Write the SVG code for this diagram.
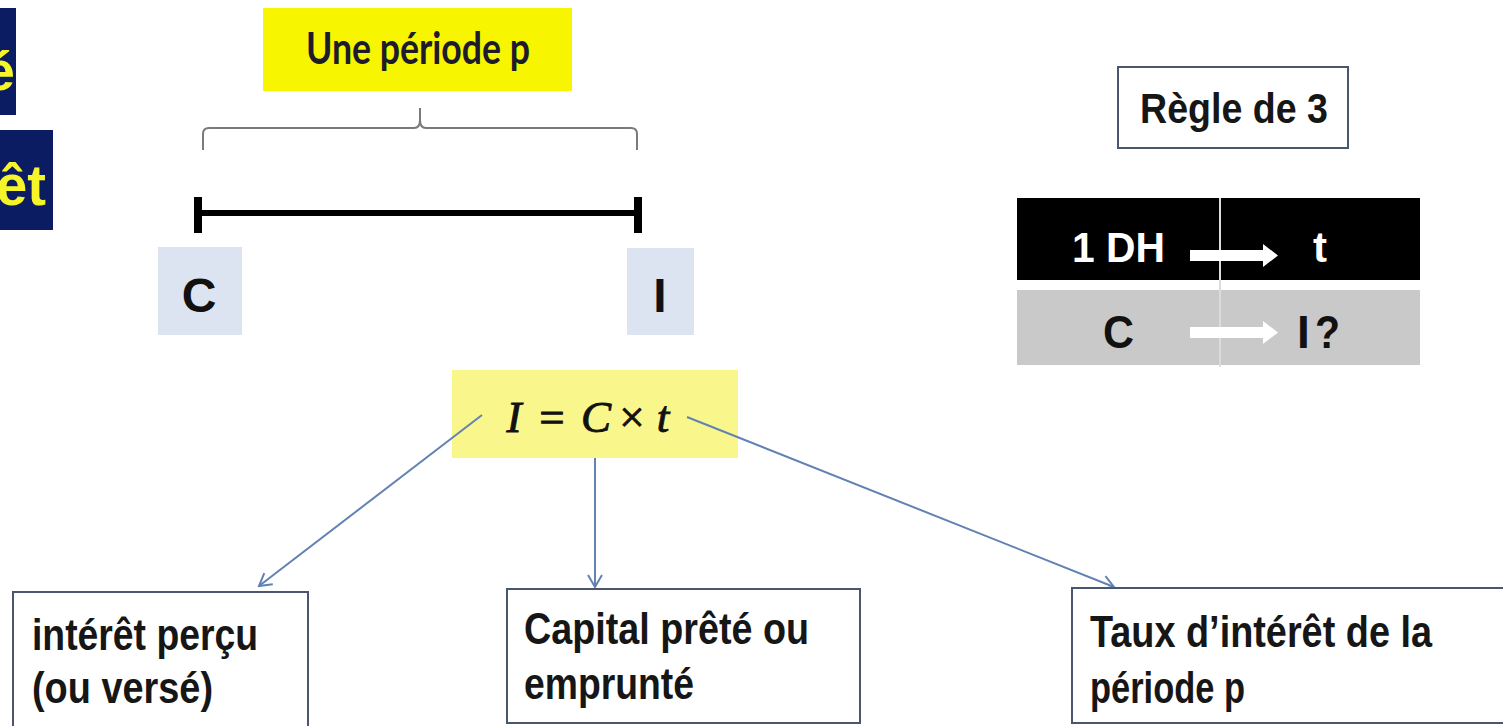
<svg xmlns="http://www.w3.org/2000/svg" width="1503" height="726" viewBox="0 0 1503 726">
  <style>
    .sans { font-family: "Liberation Sans", Arial, sans-serif; }
    .box { fill: #ffffff; stroke: #4a5670; stroke-width: 2; }
    .lbl { font-family: "Liberation Sans", Arial, sans-serif; font-weight: bold; font-size: 45px; fill: #161616; }
    .tick { fill: #dbe4f0; }
    .conn { stroke: #6282b4; stroke-width: 2; fill: none; }
    .math { font-family: "Liberation Serif", "Times New Roman", serif; font-style: italic; font-size: 45px; fill: #111; stroke: #111; stroke-width: 0.9; text-anchor: middle; }
    .cell { font-family: "Liberation Sans", Arial, sans-serif; font-weight: bold; }
  </style>
  <defs>
    <marker id="vee" markerWidth="16" markerHeight="16" refX="14" refY="8" orient="auto" markerUnits="userSpaceOnUse">
      <path d="M2,1 L14,8 L2,15" fill="none" stroke="#6282b4" stroke-width="2"/>
    </marker>
  </defs>

  <rect width="1503" height="726" fill="#ffffff"/>

  <!-- title tabs at the left edge -->
  <g id="tab-top">
    <rect x="0" y="8" width="16" height="107" fill="#0b1c62"/>
    <text x="15" y="90" class="sans" font-weight="bold" font-size="56" fill="#f5f52a" text-anchor="end">é</text>
  </g>
  <g id="tab-bottom">
    <rect x="0" y="130" width="53" height="100" fill="#0b1c62"/>
    <text x="-4" y="205" class="sans" font-weight="bold" font-size="58" fill="#f5f52a" textLength="50" lengthAdjust="spacingAndGlyphs">êt</text>
  </g>

  <!-- period label -->
  <g id="period">
    <rect x="263" y="8" width="309" height="83" fill="#f7f500"/>
    <text x="306" y="64" font-family="Lato, 'Open Sans', sans-serif" font-weight="bold" font-size="44" fill="#1c1c2a" textLength="224" lengthAdjust="spacingAndGlyphs">Une période p</text>
  </g>

  <!-- brace over the time span -->
  <g id="brace" fill="none" stroke="#7a7a7a" stroke-width="2">
    <path d="M203,150 L203,134 Q203,128 209,128 L414,128 Q420,128 420,120 L420,108 M420,120 Q420,128 426,128 L631,128 Q637,128 637,134 L637,150"/>
  </g>

  <!-- time span -->
  <g id="span" fill="#000">
    <rect x="198" y="210" width="442" height="6"/>
    <rect x="194" y="197" width="8" height="36"/>
    <rect x="634" y="197" width="8" height="36"/>
  </g>

  <g id="node-c">
    <rect x="158" y="247" width="84" height="88" class="tick"/>
    <text x="199" y="312" class="cell" font-size="48" fill="#111" text-anchor="middle">C</text>
  </g>
  <g id="node-i">
    <rect x="627" y="248" width="67" height="87" class="tick"/>
    <text x="660" y="312" class="cell" font-size="48" fill="#111" text-anchor="middle">I</text>
  </g>

  <!-- rule of three -->
  <g id="rule-title">
    <rect x="1118" y="67" width="230" height="81" class="box"/>
    <text x="1140" y="123" class="cell" font-size="42" fill="#161616" textLength="188" lengthAdjust="spacingAndGlyphs">Règle de 3</text>
  </g>
  <g id="rule-table">
    <rect x="1017" y="198" width="403" height="82" fill="#000"/>
    <rect x="1017" y="290" width="403" height="75" fill="#c9c9c9"/>
    <line x1="1220" y1="198" x2="1220" y2="367" stroke="#dcdcdc" stroke-width="2"/>
    <text x="1072" y="262" class="cell" font-size="42" fill="#fff" textLength="93" lengthAdjust="spacingAndGlyphs">1 DH</text>
    <path d="M1190,250 L1263,250 L1263,244 L1278,255.5 L1263,267 L1263,261 L1190,261 Z" fill="#fff"/>
    <text x="1313" y="262" class="cell" font-size="42" fill="#fff">t</text>
    <text x="1103" y="348" class="cell" font-size="46" fill="#111" textLength="31" lengthAdjust="spacingAndGlyphs">C</text>
    <path d="M1190,327 L1263,327 L1263,321 L1278,332.5 L1263,344 L1263,338 L1190,338 Z" fill="#fff"/>
    <text x="1297" y="348" class="cell" font-size="46" fill="#111">I</text>
    <text x="1315" y="348" class="cell" font-size="46" fill="#111" textLength="25" lengthAdjust="spacingAndGlyphs">?</text>
  </g>

  <!-- formula -->
  <g id="formula">
    <rect x="452" y="370" width="286" height="88" fill="#f9f78c"/>
    <text y="432" class="math"><tspan x="514">I</tspan><tspan x="552" font-style="normal">=</tspan><tspan x="596">C</tspan><tspan x="632" font-style="normal">×</tspan><tspan x="663">t</tspan></text>
  </g>

  <!-- connectors from the formula -->
  <g id="connectors">
    <line x1="482" y1="415" x2="259" y2="586" class="conn" marker-end="url(#vee)"/>
    <line x1="595" y1="458" x2="595" y2="587" class="conn" marker-end="url(#vee)"/>
    <line x1="687" y1="417" x2="1114" y2="587" class="conn" marker-end="url(#vee)"/>
  </g>

  <g id="box-interest">
    <rect x="13" y="592" width="295" height="140" class="box"/>
    <text x="32" y="650" class="lbl" textLength="226" lengthAdjust="spacingAndGlyphs">intérêt perçu</text>
    <text x="32" y="703" class="lbl" textLength="181" lengthAdjust="spacingAndGlyphs">(ou versé)</text>
  </g>
  <g id="box-capital">
    <rect x="507" y="589" width="353" height="134" class="box"/>
    <text x="524" y="644" class="lbl" textLength="285" lengthAdjust="spacingAndGlyphs">Capital prêté ou</text>
    <text x="524" y="699" class="lbl" textLength="170" lengthAdjust="spacingAndGlyphs">emprunté</text>
  </g>
  <g id="box-rate">
    <rect x="1072" y="588" width="440" height="135" class="box"/>
    <text x="1090" y="647" class="lbl" textLength="342" lengthAdjust="spacingAndGlyphs">Taux d’intérêt de la</text>
    <text x="1090" y="703" class="lbl" textLength="155" lengthAdjust="spacingAndGlyphs">période p</text>
  </g>
</svg>
